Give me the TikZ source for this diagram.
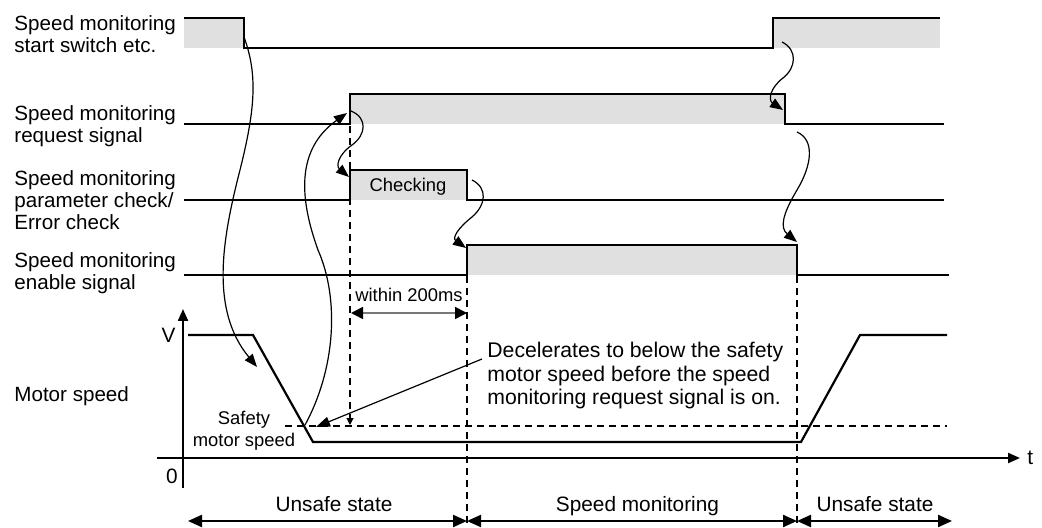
\documentclass[tikz,border=0pt]{standalone}
\usepackage{fontspec}
\setmainfont{Liberation Sans}
\usetikzlibrary{arrows.meta,positioning}
\definecolor{onfill}{RGB}{224,224,224}
\definecolor{spangray}{RGB}{120,120,120}
\tikzset{%
	signal/.style    = {line width=1.1pt, line join=miter},
	active/.style    = {fill=onfill, draw=none},
	sigtext/.style   = {anchor=base west, align=left, inner sep=0pt, font=\fontsize{10.3}{11}\selectfont},
	bigtext/.style   = {anchor=base, inner sep=0pt, font=\fontsize{10.4}{11.5}\selectfont},
	smalltext/.style = {anchor=base, inner sep=0pt, align=center, font=\fontsize{9.2}{10.8}\selectfont},
	cause/.style     = {line width=0.6pt, -{Triangle[length=6.5pt,width=5pt]}},
	guide/.style     = {line width=0.55pt, dash pattern=on 3.5pt off 2.5pt},
	phase/.style     = {line width=1.1pt, {Triangle[length=7pt,width=6pt]}-{Triangle[length=7pt,width=6pt]}},
	axis/.style      = {line width=1.1pt, -{Triangle[length=6pt,width=5pt]}},
}

\begin{document}
\begin{tikzpicture}[x=0.5pt, y=-0.5pt]
	\useasboundingbox (0,0) rectangle (1042,528);
	% signal names (base = last line)
	\node[sigtext] (lstart) at (14,52.5) {Speed monitoring\\start switch etc.};
	\node[sigtext] (lreq) at (14,143) {Speed monitoring\\request signal};
	\node[sigtext] (lchk) at (14,230) {Speed monitoring\\parameter check/\\Error check};
	\node[sigtext] (len) at (14,290) {Speed monitoring\\enable signal};
	\node[sigtext] (lmot) at (14,401.5) {Motor speed};
	% on states
	\fill[active] (184,18) rectangle (244,48);
	\fill[active] (773,18) rectangle (940,48);
	\fill[active] (350,94) rectangle (785,124);
	\fill[active] (350,170) rectangle (467,200);
	\fill[active] (467,245) rectangle (797,275);
	\node[smalltext] (chk) at (408,191.5) {Checking};
	% time markers
	\draw[guide, -{Triangle[length=3.5pt,width=3.5pt]}] (350,126) -- (350,425);
	\draw[guide] (467,276) -- (467,530);
	\draw[guide] (797,276) -- (797,530);
	\draw[guide] (285,426) -- (947,426);
	% signal traces
	\draw[signal] (184,18) -- (244,18) -- (244,48) -- (773,48) -- (773,18) -- (940,18);
	\draw[signal] (184,124) -- (350,124) -- (350,94) -- (785,94) -- (785,124) -- (944,124);
	\draw[signal] (184,200) -- (350,200) -- (350,170) -- (467,170) -- (467,200) -- (944,200);
	\draw[signal] (184,275) -- (467,275) -- (467,245) -- (797,245) -- (797,275) -- (949,275);
	% motor speed
	\coordinate (vbot) at (183,488);
	\coordinate (vtop) at (183,309);
	\coordinate (tstart) at (157,458);
	\coordinate (tend) at (1020,458);
	\draw[axis] (vbot) -- (vtop);
	\draw[axis] (tstart) -- (tend);
	\node[bigtext] (vlab) at (168.5,343) {V};
	\node[bigtext] (zero) at (172,483) {0};
	\node[bigtext, anchor=west, right=3.5pt of tend] (tlab) {t};
	\draw[signal] (188,335) -- (253,335) -- (313,442) -- (801,442) -- (860,335) -- (947,335);
	\node[smalltext] (safe) at (244,446.5) {Safety\\motor speed};
	% cause and effect
	\coordinate (sw fall) at (244,37);
	\coordinate (ramp) at (257,367);
	\coordinate (safe hit) at (305,425);
	\coordinate (req on) at (347,113);
	\coordinate (req rise) at (351,111);
	\coordinate (chk on) at (349,177);
	\coordinate (chk fall) at (472,180);
	\coordinate (en on) at (466,248);
	\coordinate (sw rise) at (782,42);
	\coordinate (req off) at (783,110);
	\coordinate (req fall) at (797,132);
	\coordinate (en off) at (797,242);
	\draw[cause] (sw fall) .. controls (258,75) and (255,110) .. (240,170) .. controls (222,240) and (210,310) .. (ramp);
	\draw[cause] (safe hit) .. controls (335,370) and (340,300) .. (318,250) .. controls (300,200) and (295,150) .. (req on);
	\draw[cause] (req rise) .. controls (368,118) and (366,135) .. (352,145) .. controls (338,155) and (336,166) .. (chk on);
	\draw[cause] (chk fall) .. controls (488,188) and (486,205) .. (472,217) .. controls (458,228) and (452,238) .. (en on);
	\draw[cause] (sw rise) .. controls (798,50) and (796,68) .. (783,78) .. controls (770,88) and (768,100) .. (req off);
	\draw[cause] (req fall) .. controls (815,140) and (812,165) .. (797,190) .. controls (782,215) and (780,228) .. (en off);
	% 200 ms window
	\coordinate (w0) at (351,313);
	\coordinate (w1) at (467,313);
	\draw[spangray, line width=0.8pt, {Triangle[length=6pt,width=6pt,color=black]}-{Triangle[length=6pt,width=6pt,color=black]}] (w0) -- (w1);
	\node[smalltext] (within) at (409,301.5) {within 200ms};
	% note
	\node[sigtext, font=\fontsize{10.6}{11.75}\selectfont] (note) at (487,405) {Decelerates to below the safety\\motor speed before the speed\\monitoring request signal is on.};
	\coordinate (note tail) at (482,359);
	\coordinate (safe tip) at (316,427);
	\draw[line width=0.6pt, -{Triangle[length=7pt,width=5pt]}] (note tail) -- (safe tip);
	% states
	\coordinate (p0) at (188,521);
	\coordinate (p1) at (467,521);
	\coordinate (p2) at (797,521);
	\coordinate (p3) at (952,521);
	\draw[phase] (p0) -- (p1);
	\draw[phase] (p1) -- (p2);
	\draw[phase] (p2) -- (p3);
	\node[bigtext] (st1) at (334,511.5) {Unsafe state};
	\node[bigtext] (st2) at (637.5,511.5) {Speed monitoring};
	\node[bigtext] (st3) at (875,511.5) {Unsafe state};
\end{tikzpicture}
\end{document}
